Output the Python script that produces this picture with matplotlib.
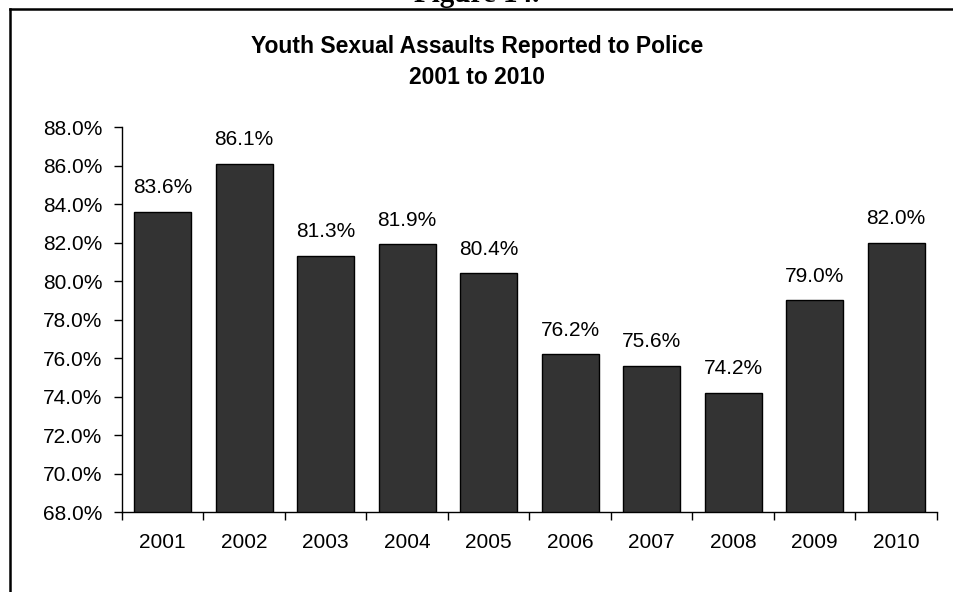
import numpy as np
import matplotlib
matplotlib.use("Agg")
import matplotlib.pyplot as plt
from matplotlib.lines import Line2D
from matplotlib.ticker import FixedLocator, FuncFormatter

# data
years = ["2001", "2002", "2003", "2004", "2005", "2006", "2007", "2008", "2009", "2010"]
pct_reported = [83.6, 86.1, 81.3, 81.9, 80.4, 76.2, 75.6, 74.2, 79.0, 82.0]
y_ticks = [68, 70, 72, 74, 76, 78, 80, 82, 84, 86, 88]

plt.rcParams['font.family'] = ['Liberation Sans', 'DejaVu Sans']

fig = plt.figure(figsize=(9.54, 5.92), dpi=100)
ax = fig.add_axes([0.1279, 0.1351, 0.982 - 0.1279, 0.6503])

x = np.arange(len(years))
bars = ax.bar(x, pct_reported, width=0.7, color='#333333', edgecolor='black',
              linewidth=1.0)

for xi, v in zip(x, pct_reported):
    ax.annotate(f"{v:.1f}%", (xi, v), xytext=(0, 10.5), textcoords='offset points',
                ha='center', va='bottom', fontsize=15)

ax.set_xlim(-0.5, len(years) - 0.5)
ax.set_ylim(68, 88)
ax.set_yticks(y_ticks)
ax.yaxis.set_major_formatter(FuncFormatter(lambda v, p: f"{v:.1f}%"))

# excel style: ticks between categories, labels centred
ax.xaxis.set_major_locator(FixedLocator(np.arange(-0.5, len(years), 1.0)))
ax.xaxis.set_major_formatter(FuncFormatter(lambda v, p: ""))
ax.xaxis.set_minor_locator(FixedLocator(x))
ax.set_xticklabels(years, minor=True)
ax.tick_params(axis='x', which='minor', length=0, pad=15, labelsize=15)
ax.tick_params(axis='x', which='major', length=6, width=1, direction='out')
ax.tick_params(axis='y', length=6, width=1, direction='out', labelsize=15, pad=8)

for s in ['top', 'right']:
    ax.spines[s].set_visible(False)
for s in ['left', 'bottom']:
    ax.spines[s].set_linewidth(1)
    ax.spines[s].set_color('black')

fig.text(0.5, 1 - 62 / 592, "Youth Sexual Assaults Reported to Police\n2001 to 2010",
         ha='center', va='center', fontsize=16.5, weight='bold', linespacing=1.45)

# caption cut off by the top edge
fig.text(0.5, 1 - 2 / 592, "Figure 14.", ha='center', va='baseline',
         fontsize=21, weight='bold', family=['Liberation Serif', 'DejaVu Serif'])

# frame around the chart (left and top edges visible)
fig.add_artist(Line2D([10 / 954, 10 / 954], [0, 1 - 9 / 592], color='black', linewidth=1.8,
                      transform=fig.transFigure, solid_capstyle='projecting'))
fig.add_artist(Line2D([10 / 954, 1], [1 - 9 / 592, 1 - 9 / 592], color='black', linewidth=1.8,
                      transform=fig.transFigure, solid_capstyle='projecting'))

fig.savefig("out.png", dpi=100)
plt.close(fig)
